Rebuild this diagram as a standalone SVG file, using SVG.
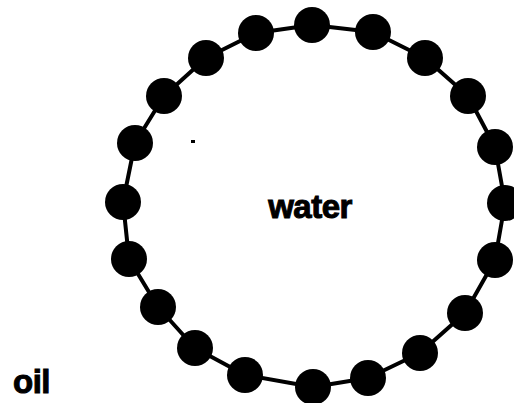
<svg xmlns="http://www.w3.org/2000/svg" width="514" height="403" viewBox="0 0 514 403">
<style>
.ring{fill:none;stroke:#000;stroke-width:4;stroke-linejoin:round}
.bead{fill:#000}
.lbl{font-family:"Liberation Sans",Arial,sans-serif;font-weight:bold;font-size:33px;fill:#000;stroke:#000;stroke-width:1px;letter-spacing:-0.5px}
</style>
<rect width="514" height="403" fill="#fff"/>
<g id="connectors">
<polygon class="ring" points="312,25 373,32 425,58 468,96 495,147 505,203 495,260 465,313 420,353 368,378 313,387 245,375 195,348 158,307 129,259 123,202 135,143 164,96 206,58 256,33"/>
</g>
<g id="beads">
<circle class="bead" cx="312" cy="25" r="18"/>
<circle class="bead" cx="373" cy="32" r="18"/>
<circle class="bead" cx="425" cy="58" r="18"/>
<circle class="bead" cx="468" cy="96" r="18"/>
<circle class="bead" cx="495" cy="147" r="18"/>
<circle class="bead" cx="505" cy="203" r="18"/>
<circle class="bead" cx="495" cy="260" r="18"/>
<circle class="bead" cx="465" cy="313" r="18"/>
<circle class="bead" cx="420" cy="353" r="18"/>
<circle class="bead" cx="368" cy="378" r="18"/>
<circle class="bead" cx="313" cy="387" r="18"/>
<circle class="bead" cx="245" cy="375" r="18"/>
<circle class="bead" cx="195" cy="348" r="18"/>
<circle class="bead" cx="158" cy="307" r="18"/>
<circle class="bead" cx="129" cy="259" r="18"/>
<circle class="bead" cx="123" cy="202" r="18"/>
<circle class="bead" cx="135" cy="143" r="18"/>
<circle class="bead" cx="164" cy="96" r="18"/>
<circle class="bead" cx="206" cy="58" r="18"/>
<circle class="bead" cx="256" cy="33" r="18"/>
</g>
<rect x="191" y="140" width="4" height="3" fill="#000"/>
<g id="water"><text class="lbl" x="310" y="218" text-anchor="middle">water</text></g>
<g id="oil"><text class="lbl" x="13" y="393">oil</text></g>
</svg>
